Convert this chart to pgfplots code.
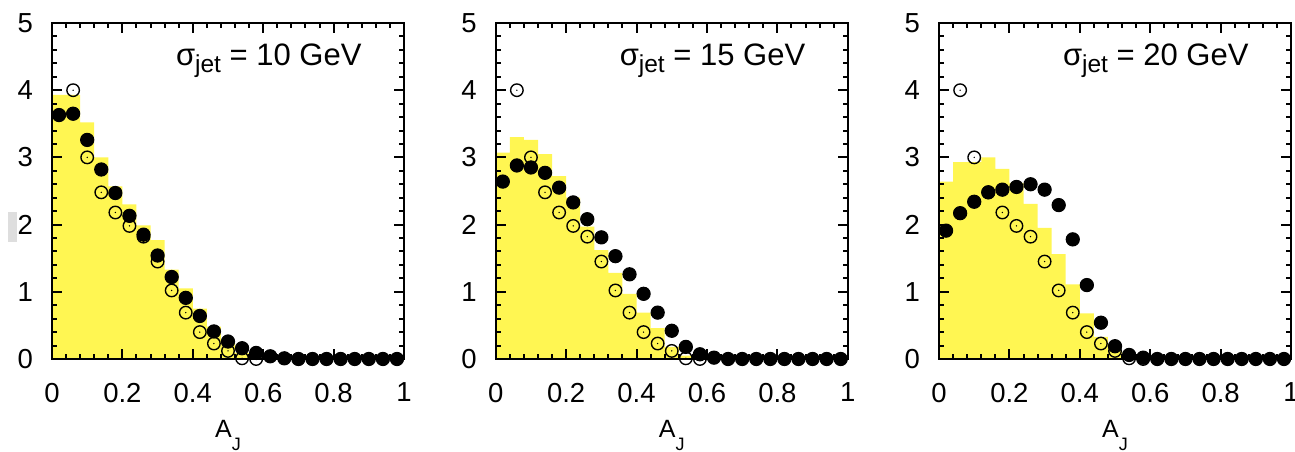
\documentclass[border=0pt]{standalone}
\usepackage{fontspec}
\setmainfont{Liberation Sans}
\usepackage{pgfplots}
\pgfplotsset{compat=1.18}

\definecolor{histyellow}{RGB}{255,246,82}

% open circle with a small dot in the middle
\pgfdeclareplotmark{odot}{%
  \pgfpathcircle{\pgfpointorigin}{\pgfplotmarksize}\pgfusepathqstroke
  \pgfpathcircle{\pgfpointorigin}{0.3pt}\pgfusepathqfill}

\pgfplotsset{
  ajpanel/.style={
    scale only axis, width=140.8pt, height=134.4pt,
    anchor=south west,
    xmin=0, xmax=1, ymin=0, ymax=5,
    xtick={0,0.2,0.4,0.6,0.8,1}, ytick={0,1,2,3,4,5},
    minor x tick num=4, minor y tick num=4,
    tick align=inside,
    major tick length=4pt, minor tick length=2pt,
    every tick/.style={black, line width=0.8pt},
    axis line style={line width=0.9pt},
    clip=false, axis on top,
    tick label style={font=\fontsize{11}{13}\selectfont, inner sep=0pt},
    /pgf/number format/assume math mode=true,
    xticklabel shift=9.4pt, yticklabel shift=7.4pt,
    xlabel={A\raisebox{-5.2pt}{\fontsize{7.2}{9}\selectfont J}},
    xlabel style={at={(axis description cs:0.5,0)}, anchor=base,
      yshift=-31.6pt, font=\fontsize{10}{12}\selectfont, inner sep=0pt},
  },
  hist/.style={fill=histyellow, draw=none, const plot},
  refpts/.style={only marks, mark=odot, mark size=2.5pt,
    mark options={line width=0.55pt, draw=black}},
  datapts/.style={only marks, mark=*, mark size=2.65pt,
    mark options={fill=black, draw=black}},
}

\newcommand{\sigmalabel}[1]{%
  \node[anchor=base east, inner sep=0pt, xshift=-16.8pt, yshift=-17pt,
    font=\fontsize{12.4}{15}\selectfont] at (rel axis cs:1,1)
    {σ\raisebox{-3pt}{\fontsize{9.8}{12}\selectfont jet} = #1 GeV};}

\begin{document}
\begin{tikzpicture}
\path[use as bounding box] (-20.8pt,-37.2pt) rectangle (497.2pt,143.6pt);
\fill[black!13] (-17.5pt,46.9pt) rectangle (-13.9pt,58.9pt);

% ---------- sigma_jet = 10 GeV ----------
\begin{axis}[ajpanel, at={(0pt,0pt)}]
\addplot[hist] coordinates {
  (0,3.93) (0.04,3.93) (0.08,3.52) (0.12,3.00) (0.16,2.57) (0.20,2.30)
  (0.24,1.99) (0.28,1.77) (0.32,1.33) (0.36,1.05) (0.40,0.75) (0.44,0.48)
  (0.48,0.24) (0.52,0.09) (0.56,0.02) (0.60,0)
} \closedcycle;
\addplot[refpts] coordinates {
  (0.06,4.00) (0.10,3.00) (0.14,2.48) (0.18,2.18) (0.22,1.98) (0.26,1.82)
  (0.30,1.45) (0.34,1.02) (0.38,0.69) (0.42,0.40) (0.46,0.23) (0.50,0.12)
  (0.54,0.01) (0.58,0.00)
};
\addplot[datapts] coordinates {
  (0.02,3.63) (0.06,3.65) (0.10,3.26) (0.14,2.82) (0.18,2.47) (0.22,2.13)
  (0.26,1.85) (0.30,1.54) (0.34,1.22) (0.38,0.91) (0.42,0.64) (0.46,0.41)
  (0.50,0.26) (0.54,0.16) (0.58,0.09) (0.62,0.04) (0.66,0.01) (0.70,0)
  (0.74,0) (0.78,0) (0.82,0) (0.86,0) (0.90,0) (0.94,0) (0.98,0)
};
\sigmalabel{10}
\end{axis}

% ---------- sigma_jet = 15 GeV ----------
\begin{axis}[ajpanel, at={(177.5pt,0pt)}]
\addplot[hist] coordinates {
  (0,3.07) (0.04,3.30) (0.08,3.26) (0.12,3.05) (0.16,2.72) (0.20,2.40)
  (0.24,1.97) (0.28,1.62) (0.32,1.28) (0.36,0.97) (0.40,0.69) (0.44,0.46)
  (0.48,0.18) (0.52,0.05) (0.56,0)
} \closedcycle;
\addplot[refpts] coordinates {
  (0.06,4.00) (0.10,3.00) (0.14,2.48) (0.18,2.18) (0.22,1.98) (0.26,1.82)
  (0.30,1.45) (0.34,1.02) (0.38,0.69) (0.42,0.40) (0.46,0.23) (0.50,0.12)
  (0.54,0.01) (0.58,0.00)
};
\addplot[datapts] coordinates {
  (0.02,2.64) (0.06,2.88) (0.10,2.85) (0.14,2.77) (0.18,2.55) (0.22,2.33)
  (0.26,2.08) (0.30,1.81) (0.34,1.53) (0.38,1.26) (0.42,0.97) (0.46,0.69)
  (0.50,0.42) (0.54,0.18) (0.58,0.07) (0.62,0.02) (0.66,0) (0.70,0)
  (0.74,0) (0.78,0) (0.82,0) (0.86,0) (0.90,0) (0.94,0) (0.98,0)
};
\sigmalabel{15}
\end{axis}

% ---------- sigma_jet = 20 GeV ----------
\begin{axis}[ajpanel, at={(354.8pt,0pt)}]
\addplot[hist] coordinates {
  (0,2.64) (0.04,2.93) (0.08,2.93) (0.12,3.00) (0.16,2.83) (0.20,2.62)
  (0.24,2.31) (0.28,1.95) (0.32,1.56) (0.36,1.11) (0.40,0.68) (0.44,0.33)
  (0.48,0.13) (0.52,0)
} \closedcycle;
\addplot[refpts] coordinates {
  (0.06,4.00) (0.10,3.00) (0.14,2.48) (0.18,2.18) (0.22,1.98) (0.26,1.82)
  (0.30,1.45) (0.34,1.02) (0.38,0.69) (0.42,0.40) (0.46,0.23) (0.50,0.12)
  (0.54,0.01) (0.58,0.00)
};
\addplot[datapts] coordinates {
  (0.02,1.91) (0.06,2.17) (0.10,2.34) (0.14,2.48) (0.18,2.52) (0.22,2.56)
  (0.26,2.60) (0.30,2.52) (0.34,2.29) (0.38,1.78) (0.42,1.10) (0.46,0.54)
  (0.50,0.19) (0.54,0.06) (0.58,0.02) (0.62,0) (0.66,0) (0.70,0)
  (0.74,0) (0.78,0) (0.82,0) (0.86,0) (0.90,0) (0.94,0) (0.98,0)
};
\sigmalabel{20}
\end{axis}
\end{tikzpicture}
\end{document}
